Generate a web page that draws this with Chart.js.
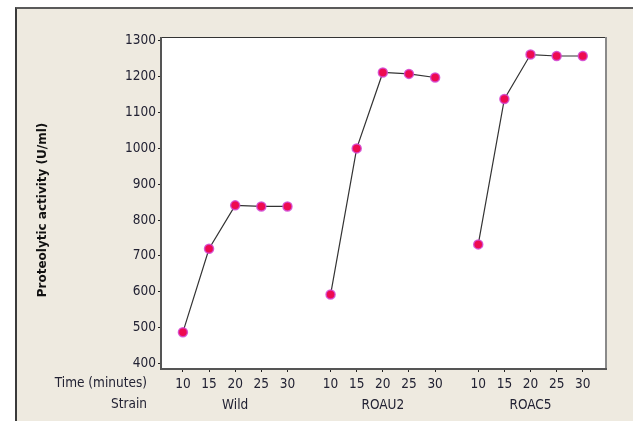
<!DOCTYPE html>
<html lang="en">
<head>
<meta charset="UTF-8">
<title>Proteolytic activity</title>
<script src="https://cdn.jsdelivr.net/npm/chart.js"></script>
<style>
    html, body { margin: 0; padding: 0; background: #ffffff; }
    .frame {
        position: absolute; left: 15px; top: 7px; width: 640px; height: 430px;
        background: #eeeae0; border-left: 2px solid #3a3a3a; border-top: 2px solid #5a5a5a;
    }
    #wrap { position: absolute; left: 0; top: 0; width: 633px; height: 421px; }
</style>
</head>
<body>
<div class="frame"></div>
<div id="wrap"><canvas id="grafico" width="633" height="421"></canvas></div>
<script>
// dados
const tempos = [10, 15, 20, 25, 30];
const linhagens = ['Wild', 'ROAU2', 'ROAC5'];
const wild = [487, 720, 841, 838, 838];
const roau2 = [592, 1000, 1212, 1208, 1198];
const roac5 = [732, 1138, 1262, 1258, 1258];
const yTicks = [400, 500, 600, 700, 800, 900, 1000, 1100, 1200, 1300];
const tituloY = 'Proteolytic activity (U/ml)';
const rotulosX = ['Time (minutes)', 'Strain'];

const series = [wild, roau2, roac5];
const passoGrupo = 5.65; // espaco entre grupos no eixo x

// posicao x de cada ponto: grupo * passo + indice do tempo
function pontos(valores, g) {
    return valores.map((v, i) => ({ x: g * passoGrupo + i, y: v }));
}

const posTicks = [];
const labelsTicks = [];
linhagens.forEach((nome, g) => {
    tempos.forEach((t, i) => {
        posTicks.push(g * passoGrupo + i);
        labelsTicks.push([String(t), i === 2 ? nome : '']);
    });
});

const fonte = "'DejaVu Sans Condensed', 'DejaVu Sans', sans-serif";

// moldura da area do grafico + rotulos da esquerda
const molduraPlugin = {
    id: 'moldura',
    beforeDraw(chart) {
        const { ctx, chartArea: a } = chart;
        ctx.save();
        ctx.fillStyle = '#ffffff';
        ctx.fillRect(a.left, a.top, a.right - a.left, a.bottom - a.top);
        ctx.restore();
    },
    afterDraw(chart) {
        const { ctx, chartArea: a } = chart;
        ctx.save();
        ctx.strokeStyle = '#8a8a8a';
        ctx.lineWidth = 2;
        ctx.beginPath();
        ctx.moveTo(a.right + 1, a.top);
        ctx.lineTo(a.right + 1, a.bottom);
        ctx.stroke();
        ctx.strokeStyle = '#333333';
        ctx.lineWidth = 1;
        ctx.beginPath();
        ctx.moveTo(a.left, a.top + 0.5);
        ctx.lineTo(a.right, a.top + 0.5);
        ctx.stroke();
        ctx.strokeStyle = '#555555';
        ctx.lineWidth = 2;
        ctx.beginPath();
        ctx.moveTo(a.left - 1, a.top);
        ctx.lineTo(a.left - 1, a.bottom + 1);
        ctx.lineTo(a.right + 2, a.bottom + 1);
        ctx.stroke();

        ctx.fillStyle = '#222233';
        ctx.font = '13.5px ' + fonte;
        ctx.textAlign = 'right';
        ctx.textBaseline = 'middle';
        ctx.fillText(rotulosX[0], 147, 383);
        ctx.fillText(rotulosX[1], 147, 404);

        // titulo do eixo y
        ctx.translate(43, 210);
        ctx.rotate(-Math.PI / 2);
        ctx.textAlign = 'center';
        ctx.fillStyle = '#111111';
        ctx.font = "bold 12px 'DejaVu Sans', sans-serif";
        ctx.fillText(tituloY, 0, 0);
        ctx.restore();
    }
};

const config = {
    type: 'scatter',
    data: {
        datasets: series.map((s, g) => ({
            label: linhagens[g],
            data: pontos(s, g),
            showLine: true,
            borderColor: '#333333',
            borderWidth: 1.2,
            pointRadius: 4.5,
            pointHoverRadius: 4.5,
            pointBackgroundColor: '#ee0a50',
            pointBorderColor: 'rgba(210, 70, 210, 0.85)',
            pointBorderWidth: 1.5
        }))
    },
    options: {
        responsive: false,
        animation: false,
        layout: { padding: { top: 37, right: 28, left: 0, bottom: 0 } },
        plugins: { legend: { display: false }, tooltip: { enabled: false } },
        scales: {
            x: {
                type: 'linear',
                min: -0.8,
                max: 2 * passoGrupo + 4 + 0.85,
                afterBuildTicks(scale) {
                    scale.ticks = posTicks.map(v => ({ value: v }));
                },
                afterFit(scale) { scale.height = 53; },
                ticks: {
                    autoSkip: false,
                    maxRotation: 0,
                    padding: 2,
                    color: '#222233',
                    font: { family: fonte, size: 13.5, lineHeight: 1.55 },
                    callback: (v, i) => labelsTicks[i]
                },
                grid: {
                    drawOnChartArea: false,
                    drawTicks: true,
                    tickLength: 4,
                    color: '#222222'
                },
                border: { display: false }
            },
            y: {
                min: 387,
                max: 1311,
                afterBuildTicks(scale) {
                    scale.ticks = yTicks.map(v => ({ value: v }));
                },
                afterFit(scale) { scale.width = 162; },
                ticks: {
                    padding: 2,
                    color: '#222233',
                    font: { family: fonte, size: 13.5 },
                    callback: v => String(v)
                },
                grid: {
                    drawOnChartArea: false,
                    drawTicks: true,
                    tickLength: 4,
                    color: '#222222'
                },
                border: { display: false }
            }
        }
    },
    plugins: [molduraPlugin]
};

new Chart(document.getElementById('grafico'), config);
</script>
</body>
</html>
